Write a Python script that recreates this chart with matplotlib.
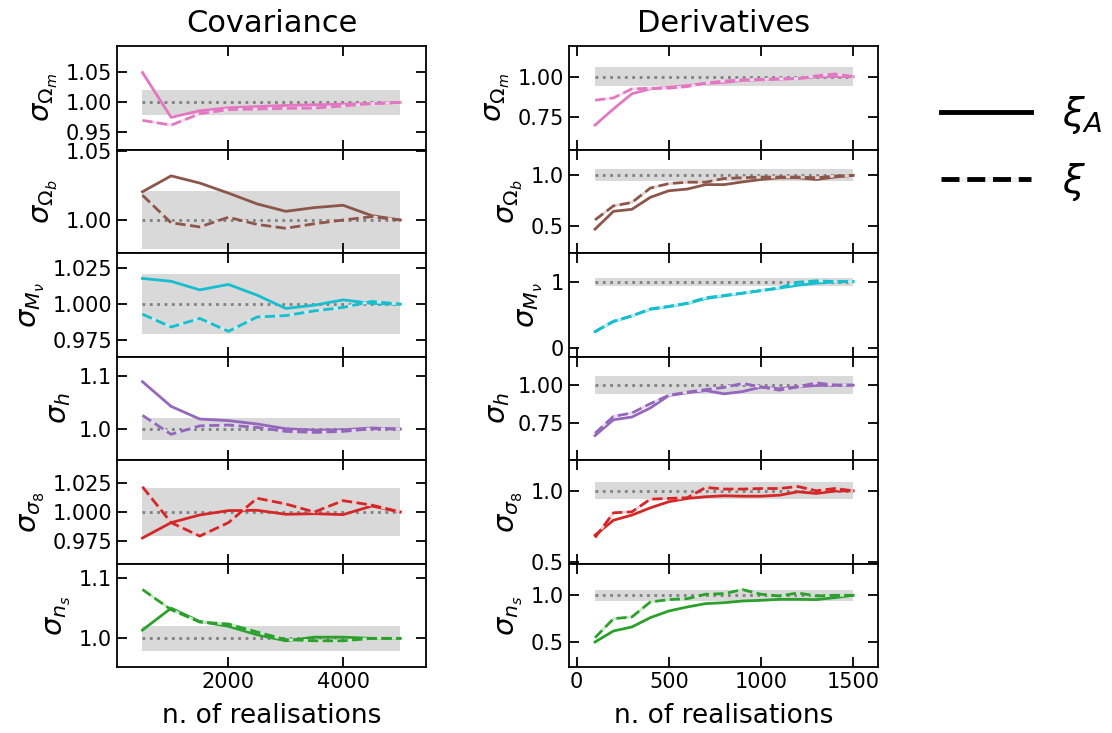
import matplotlib
matplotlib.use("Agg")
import matplotlib.pyplot as plt
from matplotlib.lines import Line2D
import matplotlib.colors as mcolors

# antall realisasjoner
n_cov = [500, 1000, 1500, 2000, 2500, 3000, 3500, 4000, 4500, 5000]
n_der = [100, 200, 300, 400, 500, 600, 700, 800, 900, 1000, 1100, 1200, 1300, 1400, 1500]

parametre = ["$\\sigma_{\\Omega_m}$", "$\\sigma_{\\Omega_b}$", "$\\sigma_{M_\\nu}$",
             "$\\sigma_h$", "$\\sigma_{\\sigma_8}$", "$\\sigma_{n_s}$"]
farger = ["#e377c2", "#8c564b", "#17becf", "#9467bd", "#d62728", "#2ca02c"]

# Covariance, xi_A (heltrukket) og xi (stiplet)
cov_om_A = [1.050, 0.975, 0.986, 0.991, 0.993, 0.995, 0.996, 0.997, 0.998, 1.000]
cov_om = [0.970, 0.962, 0.981, 0.988, 0.989, 0.990, 0.9905, 0.994, 0.998, 1.000]
cov_ob_A = [1.0205, 1.032, 1.0268, 1.0195, 1.0117, 1.0063, 1.009, 1.0107, 1.0032, 1.000]
cov_ob = [1.018, 0.998, 0.995, 1.002, 0.9968, 0.994, 0.9973, 1.000, 1.0024, 1.000]
cov_mnu_A = [1.018, 1.016, 1.010, 1.0138, 1.0063, 0.997, 0.9993, 1.003, 1.0005, 1.000]
cov_mnu = [0.993, 0.984, 0.990, 0.981, 0.991, 0.992, 0.9953, 0.9977, 1.0019, 1.000]
cov_h_A = [1.090, 1.043, 1.019, 1.016, 1.0096, 1.0006, 0.998, 0.9987, 1.002, 1.000]
cov_h = [1.026, 0.990, 1.006, 1.0076, 1.003, 0.9955, 0.9936, 0.9955, 1.0006, 1.000]
cov_s8_A = [0.9773, 0.9907, 0.9974, 1.0012, 1.0015, 0.998, 0.9985, 0.9977, 1.0052, 1.000]
cov_s8 = [1.022, 0.9907, 0.979, 0.9907, 1.012, 1.007, 1.000, 1.0099, 1.006, 1.000]
cov_ns_A = [1.0138, 1.050, 1.028, 1.020, 1.006, 0.996, 1.002, 1.002, 1.000, 1.000]
cov_ns = [1.081, 1.0475, 1.027, 1.0238, 1.0105, 0.998, 0.996, 0.996, 1.000, 1.000]

# Derivatives
der_om_A = [0.700, 0.800, 0.894, 0.924, 0.934, 0.944, 0.958, 0.964, 0.976, 0.980, 0.984, 0.988, 0.998, 1.000, 1.000]
der_om = [0.854, 0.868, 0.924, 0.928, 0.928, 0.938, 0.960, 0.972, 0.980, 0.982, 0.986, 0.988, 1.004, 1.016, 1.000]
der_ob_A = [0.466, 0.643, 0.663, 0.782, 0.847, 0.864, 0.908, 0.908, 0.935, 0.959, 0.976, 0.976, 0.959, 0.983, 1.000]
der_ob = [0.558, 0.697, 0.731, 0.874, 0.918, 0.932, 0.932, 0.969, 0.976, 0.983, 0.983, 0.983, 0.976, 0.993, 1.000]
der_mnu_A = [0.242, 0.394, 0.480, 0.580, 0.620, 0.667, 0.742, 0.783, 0.823, 0.864, 0.900, 0.944, 0.975, 0.995, 1.000]
der_mnu = [0.242, 0.400, 0.480, 0.585, 0.625, 0.672, 0.755, 0.790, 0.825, 0.862, 0.905, 0.990, 1.010, 1.000, 1.000]
der_h_A = [0.671, 0.774, 0.792, 0.851, 0.932, 0.950, 0.965, 0.943, 0.958, 0.987, 0.976, 0.989, 0.998, 1.000, 1.000]
der_h = [0.686, 0.796, 0.818, 0.879, 0.934, 0.954, 0.971, 0.985, 1.011, 0.989, 0.967, 0.989, 1.015, 1.000, 1.000]
der_s8_A = [0.688, 0.793, 0.829, 0.880, 0.923, 0.946, 0.958, 0.965, 0.962, 0.962, 0.969, 0.993, 0.981, 0.998, 1.000]
der_s8 = [0.671, 0.845, 0.852, 0.941, 0.946, 0.951, 1.023, 1.012, 1.012, 1.016, 1.016, 1.030, 1.000, 1.016, 1.000]
der_ns_A = [0.500, 0.618, 0.661, 0.761, 0.832, 0.875, 0.911, 0.921, 0.939, 0.946, 0.957, 0.957, 0.954, 0.975, 1.000]
der_ns = [0.546, 0.750, 0.768, 0.929, 0.954, 0.964, 1.011, 1.018, 1.061, 1.011, 0.993, 1.025, 0.993, 1.000, 1.000]

cov_A = [cov_om_A, cov_ob_A, cov_mnu_A, cov_h_A, cov_s8_A, cov_ns_A]
cov_xi = [cov_om, cov_ob, cov_mnu, cov_h, cov_s8, cov_ns]
der_A = [der_om_A, der_ob_A, der_mnu_A, der_h_A, der_s8_A, der_ns_A]
der_xi = [der_om, der_ob, der_mnu, der_h, der_s8, der_ns]

band_cov = 0.021
band_der = 0.06

ylim_cov = [(0.921, 1.094), (0.976, 1.051), (0.9633, 1.0357), (0.941, 1.1376), (0.955, 1.0453), (0.9525, 1.124)]
ylim_der = [(0.548, 1.188), (0.228, 1.255), (-0.136, 1.43), (0.511, 1.186), (0.488, 1.216), (0.232, 1.34)]
yticks_cov = [[0.95, 1.00, 1.05], [1.00, 1.05], [0.975, 1.000, 1.025], [1.0, 1.1], [0.975, 1.000, 1.025], [1.0, 1.1]]
yticks_der = [[0.75, 1.00], [0.5, 1.0], [0, 1], [0.75, 1.00], [0.5, 1.0], [0.5, 1.0]]
ytlabels_cov = [["0.95", "1.00", "1.05"], ["1.00", "1.05"], ["0.975", "1.000", "1.025"], ["1.0", "1.1"],
                ["0.975", "1.000", "1.025"], ["1.0", "1.1"]]
ytlabels_der = [["0.75", "1.00"], ["0.5", "1.0"], ["0", "1"], ["0.75", "1.00"], ["0.5", "1.0"], ["0.5", "1.0"]]


def lys(farge, andel=0.75):
    r, g, b = mcolors.to_rgb(farge)
    return (r + (1 - r) * andel, g + (1 - g) * andel, b + (1 - b) * andel)


fig, axes = plt.subplots(6, 2, figsize=(11.12, 7.33), dpi=100, sharex='col')
plt.subplots_adjust(left=0.105, right=0.79, top=0.937, bottom=0.09, hspace=0, wspace=0.46)

for i in range(6):
    for j, (x, A, xi, band, ylim, ytk, ytl) in enumerate([
            (n_cov, cov_A[i], cov_xi[i], band_cov, ylim_cov[i], yticks_cov[i], ytlabels_cov[i]),
            (n_der, der_A[i], der_xi[i], band_der, ylim_der[i], yticks_der[i], ytlabels_der[i])]):
        ax = axes[i, j]
        ax.fill_between([x[0], x[-1]], 1 - band, 1 + band, color="#d9d9d9", lw=0, zorder=1)
        ax.plot([x[0], x[-1]], [1, 1], linestyle=":", color="gray", lw=2, zorder=2)
        ax.plot(x, A, color=farger[i], lw=2, zorder=3)
        ax.plot(x, xi, color=farger[i], lw=2, linestyle="--", gapcolor=lys(farger[i]), zorder=3)
        ax.set_ylim(ylim)
        ax.set_yticks(ytk)
        ax.set_yticklabels(ytl)
        ax.set_ylabel(parametre[i], fontsize=21)
        ax.tick_params(direction="in", top=True, right=True, length=7, width=1.3, labelsize=15)
        for s in ax.spines.values():
            s.set_linewidth(1.3)

axes[0, 0].set_xlim(52, 5454)
axes[0, 0].set_xticks([2000, 4000])
axes[0, 1].set_xlim(-42, 1637)
axes[0, 1].set_xticks([0, 500, 1000, 1500])

axes[0, 0].set_title("Covariance", fontsize=22, pad=10)
axes[0, 1].set_title("Derivatives", fontsize=22, pad=10)
axes[5, 0].set_xlabel("n. of realisations", fontsize=19, labelpad=8)
axes[5, 1].set_xlabel("n. of realisations", fontsize=19, labelpad=8)

handles = [Line2D([], [], color="black", lw=3.5),
           Line2D([], [], color="black", lw=3.5, linestyle="--", gapcolor="#f0f0f0")]
fig.legend(handles, ["$\\xi_A$", "$\\xi$"], loc="upper left", bbox_to_anchor=(0.815, 0.92),
           frameon=False, fontsize=28, handlelength=2.3, labelspacing=0.65)

plt.savefig("out.png", dpi=100)
